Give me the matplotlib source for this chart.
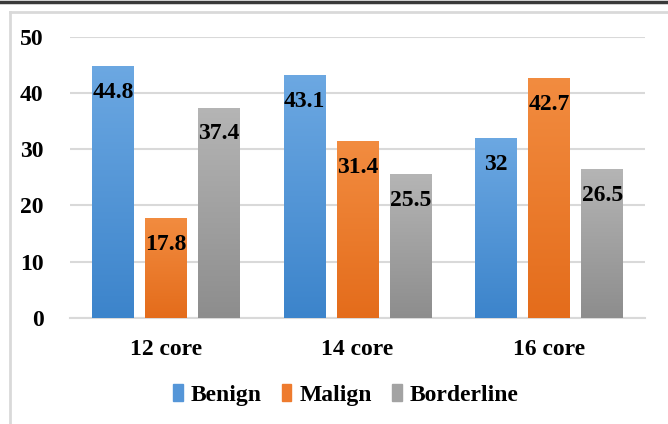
import numpy as np
import matplotlib
matplotlib.use("Agg")
import matplotlib.pyplot as plt
from matplotlib.colors import LinearSegmentedColormap
from matplotlib.lines import Line2D
from matplotlib.patches import Rectangle

categories = ["12 core", "14 core", "16 core"]
series = ["Benign", "Malign", "Borderline"]
benign = [44.8, 43.1, 32]
malign = [17.8, 31.4, 42.7]
borderline = [37.4, 25.5, 26.5]
value_labels = [["44.8", "43.1", "32"], ["17.8", "31.4", "42.7"], ["37.4", "25.5", "26.5"]]

# top / bottom colours of the gradient fill
top_colors = ["#6ca8e2", "#f28c40", "#b5b5b5"]
bottom_colors = ["#3c84cb", "#e46c1b", "#8d8d8d"]

plt.rcParams["font.family"] = "serif"
plt.rcParams["font.serif"] = ["Liberation Serif", "Times New Roman", "DejaVu Serif"]
plt.rcParams["font.weight"] = "bold"

fig = plt.figure(figsize=(6.68, 4.24), dpi=100)
ax = fig.add_axes([70 / 668, 0.25, 575 / 668, 0.6637])

x = np.arange(len(categories))
width = 0.219
pitch = 0.2765
grad = np.linspace(1, 0, 256).reshape(-1, 1)

for i, vals in enumerate([benign, malign, borderline]):
    cmap = LinearSegmentedColormap.from_list("g%d" % i, [bottom_colors[i], top_colors[i]])
    bars = ax.bar(x + (i - 1) * pitch, vals, width, color=top_colors[i], zorder=3)
    for b, lab in zip(bars, value_labels[i]):
        bx, by = b.get_x(), b.get_y()
        w, h = b.get_width(), b.get_height()
        b.set_facecolor("none")
        im = ax.imshow(grad, cmap=cmap, aspect="auto", extent=[bx, bx + w, 0, h],
                       zorder=3, interpolation="bicubic")
        im.set_clip_path(b)
        ax.annotate(lab, (bx + w / 2, h), xytext=(0, -19), textcoords="offset points",
                    ha="center", va="center", fontsize=17, fontweight="bold", zorder=5)

ax.set_xlim(-0.5, 2.5)
ax.set_ylim(0, 50)
ax.set_yticks(range(0, 51, 10))
ax.set_xticks(x)
ax.set_xticklabels(categories)
ax.grid(axis="y", color="#d9d9d9", linewidth=1.5, zorder=0)
ax.tick_params(axis="both", length=0, labelsize=17)
ax.tick_params(axis="y", pad=19)
ax.tick_params(axis="x", pad=15)
for s in ["top", "right", "left"]:
    ax.spines[s].set_visible(False)
ax.spines["bottom"].set_color("#d9d9d9")
ax.spines["bottom"].set_linewidth(1.5)

handles = [Rectangle((0, 0), 1, 1, color=c) for c in ["#5596d8", "#ee7b2e", "#a3a3a3"]]
fig.legend(handles, series, loc="center", bbox_to_anchor=(0.518, 1 - 395 / 424), ncol=3,
           frameon=False, fontsize=17, handlelength=0.4, handleheight=0.75,
           handletextpad=0.35, columnspacing=0.85)

# outer frame bits
fig.add_artist(Line2D([0, 1], [1 - 1.5 / 424, 1 - 1.5 / 424], color="#3a3a3a", linewidth=2.5))
fig.add_artist(Line2D([10 / 668, 1], [1 - 11.5 / 424, 1 - 11.5 / 424], color="#d9d9d9", linewidth=2))
fig.add_artist(Line2D([10 / 668, 10 / 668], [0, 1 - 11.5 / 424], color="#d9d9d9", linewidth=2))

fig.savefig("out.png", dpi=100)
